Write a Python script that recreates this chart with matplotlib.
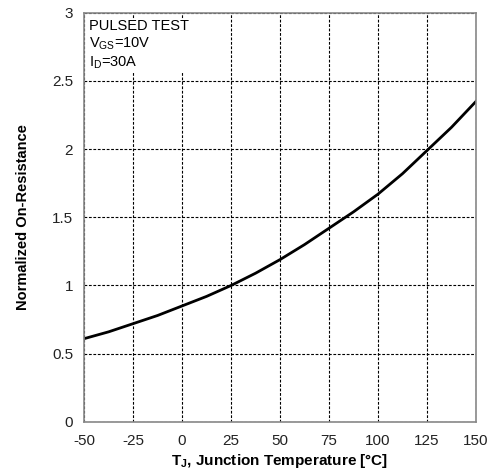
import matplotlib
matplotlib.use("Agg")
import matplotlib.pyplot as plt

# Curve
temps = [-50, -37.5, -25, -12.5, 0, 12.5, 25, 37.5, 50, 62.5, 75, 87.5, 100, 112.5, 125, 137.5, 150]
rds_norm = [0.61, 0.66, 0.72, 0.78, 0.85, 0.92, 1.00, 1.09, 1.19, 1.30, 1.42, 1.54, 1.67, 1.82, 1.99, 2.16, 2.35]

x_ticks = [-50, -25, 0, 25, 50, 75, 100, 125, 150]
y_ticks = [0, 0.5, 1, 1.5, 2, 2.5, 3]
y_tick_labels = ["0", "0.5", "1", "1.5", "2", "2.5", "3"]

plt.rcParams["font.family"] = ["Liberation Sans", "DejaVu Sans"]
plt.rcParams["axes.unicode_minus"] = False

fig = plt.figure(figsize=(5.01, 4.75), dpi=100)
ax = fig.add_axes([0.168, 0.112, 0.782, 0.861])

ax.plot(temps, rds_norm, color="black", linewidth=2.0)

ax.set_xlim(-50, 150)
ax.set_ylim(0, 3)
ax.set_xticks(x_ticks)
ax.set_yticks(y_ticks)
ax.set_yticklabels(y_tick_labels)
ax.tick_params(length=0, labelsize=11, colors="#222222")
ax.tick_params(axis="x", pad=9)
ax.tick_params(axis="y", pad=8)
ax.grid(True, color="black", linestyle=(0, (2.5, 1.5)), linewidth=0.8)

for spine in ax.spines.values():
    spine.set_color("#888888")
    spine.set_linewidth(1.2)

ax.set_xlabel("T$_\\mathregular{J}$, Junction Temperature [\u00b0C]",
              fontsize=11, fontweight="bold", labelpad=3)
ax.set_ylabel("Normalized On-Resistance", fontsize=10.5, fontweight="bold", labelpad=16)

ax.text(0.012, 0.985, "PULSED TEST\nV$_\\mathregular{GS}$=10V\nI$_\\mathregular{D}$=30A",
        transform=ax.transAxes, ha="left", va="top", fontsize=10.5, linespacing=1.2,
        bbox=dict(facecolor="white", edgecolor="none", pad=1))

fig.savefig("out.png", dpi=100)
